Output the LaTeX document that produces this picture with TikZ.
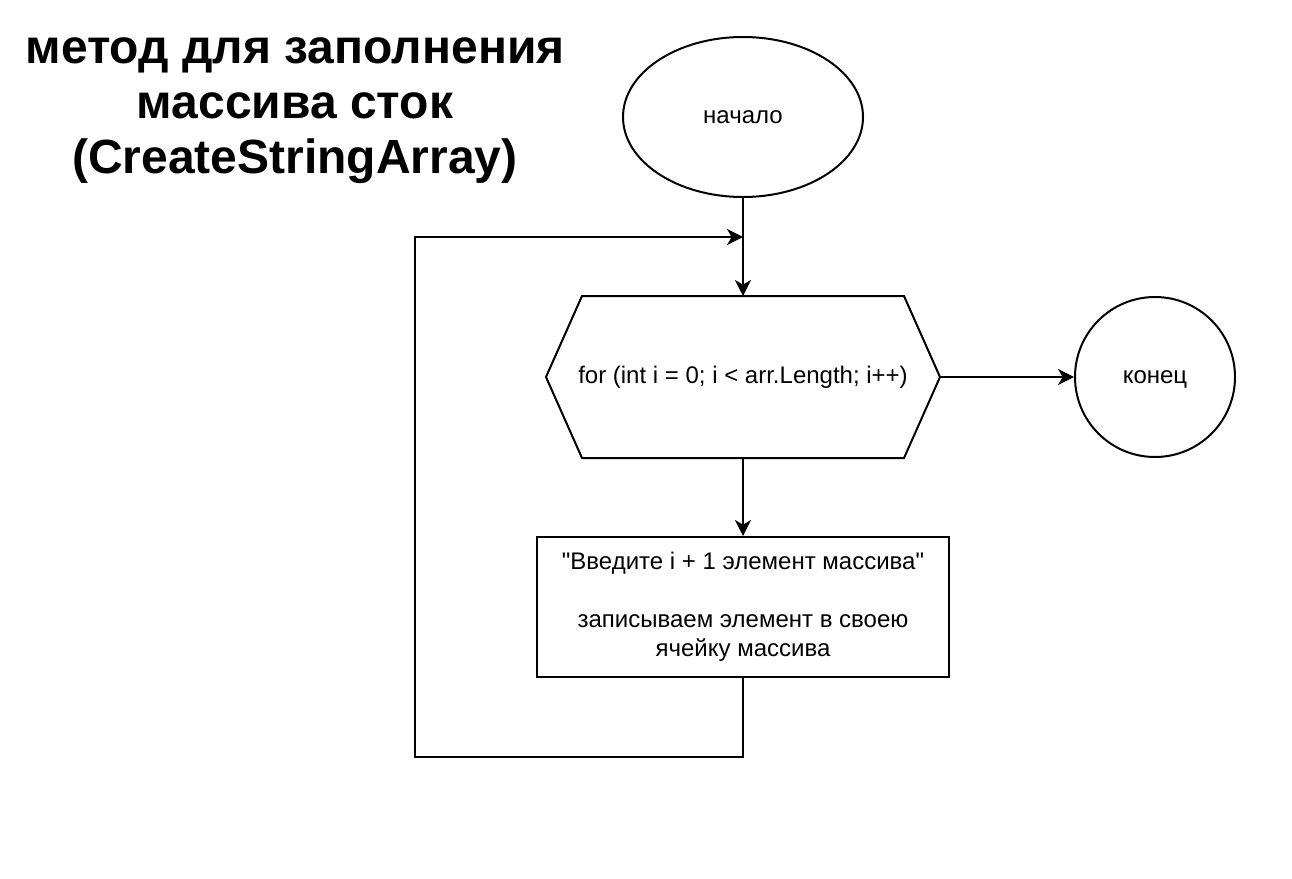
\documentclass[tikz,border=0pt]{standalone}
\usepackage{fontspec}
\setmainfont{Liberation Sans}
\usetikzlibrary{arrows.meta,shapes.geometric}

\begin{document}
\begin{tikzpicture}[x=0.75pt,y=-0.75pt,line width=1.5pt,
		block/.style={draw,inner sep=0pt,align=center,font=\fontsize{18}{21.75}\selectfont},
		oneline/.style={text height=13pt,text depth=3.6pt},
		arr/.style={-{Stealth[length=12pt,width=12pt,inset=3.5pt]}}]
	\useasboundingbox (0,0) rectangle (1292,878);
		\node(title)[align=center,inner sep=0pt,font=\fontsize{36}{41.25}\selectfont\bfseries] at (295,111)
			{метод для заполнения\\массива сток\\(CreateStringArray)};
		\node(start)[block,oneline,ellipse,minimum width=180pt,minimum height=120pt] at (743,117){начало};
		\node(loop)[block,oneline,draw=none,minimum width=294pt,minimum height=120pt] at (743,377)
			{for (int i = 0; i < arr.Length; i++)};
		\node(finish)[block,oneline,circle,minimum size=120pt] at (1155,377){конец};
		\node(body)[block,minimum width=309pt,minimum height=105pt] at (743,607)
			{\textquotedbl Введите i + 1 элемент массива\textquotedbl\\[21.75pt]записываем элемент в своею\\ячейку массива};
		\coordinate(join) at (743,237);
		\coordinate(back) at (415,757);
	\draw (loop.west)--([xshift=27pt]loop.north west)--([xshift=-27pt]loop.north east)
		--(loop.east)--([xshift=-27pt]loop.south east)--([xshift=27pt]loop.south west)--cycle;
	\draw [arr](start.south)--(loop.north);
	\draw [arr](loop.east)--(finish.west);
	\draw [arr](loop.south)--(body.north);
	\draw [arr](body.south)|-(back)|-(join);
\end{tikzpicture}
\end{document}
